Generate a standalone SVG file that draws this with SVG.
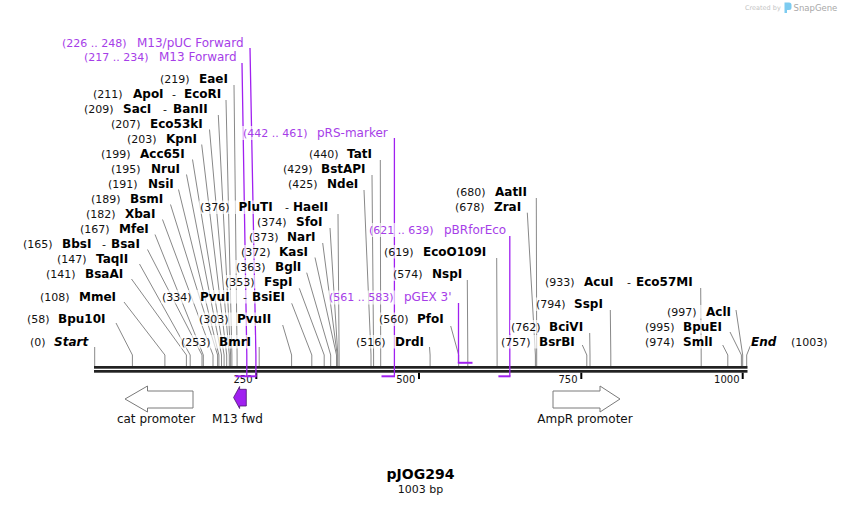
<svg xmlns="http://www.w3.org/2000/svg" width="842" height="505" viewBox="0 0 842 505">
<style>
text{font-family:"DejaVu Sans","Liberation Sans",sans-serif;fill:#111}
.n{font-size:11px}
.e{font-size:12px;font-weight:bold;fill:#000}
.i{font-style:italic}
.pr{fill:#a63ee8}
.pn{font-size:12px;fill:#a63ee8}
.bg{fill:#fff;fill-opacity:0.65}
.cl path{fill:none;stroke:#888;stroke-width:1}
.pl path{fill:none;stroke:#a020f0;stroke-width:1.3}
.pl path.h{stroke-width:2}
.tk{stroke:#000;stroke-width:2}
.tl{font-size:10px;text-anchor:end}
.ft{font-size:12px;text-anchor:middle}
</style>
<rect width="842" height="505" fill="#fff"/>
<g id="watermark">
<text x="745" y="10" style="font-size:6.5px;fill:#c4c4c4">Created by</text>
<path d="M784.5 2.5h4.5a2.5 2.5 0 0 1 2.5 2.5v2.5a2.5 2.5 0 0 1-2.5 2.5h-2v3h-2.5z" fill="#7ccbf0"/>
<text x="793.5" y="11" style="font-size:8.5px;fill:#a8a8a8">SnapGene</text>
</g>
<g id="backbone">
<rect x="94" y="366" width="653.5" height="2.7" fill="#222"/>
<rect x="94" y="370" width="653.5" height="2.7" fill="#222"/>
<line class="tk" x1="256.3" y1="372.7" x2="256.3" y2="379"/>
<line class="tk" x1="419" y1="372.7" x2="419" y2="379"/>
<line class="tk" x1="581.3" y1="372.7" x2="581.3" y2="379"/>
<line class="tk" x1="742.7" y1="372.7" x2="742.7" y2="379"/>
<text class="tl" x="252.5" y="382.5">250</text>
<text class="tl" x="415.3" y="382.5">500</text>
<text class="tl" x="577.5" y="382.5">750</text>
<text class="tl" x="739.5" y="382.5">1000</text>
</g>
<g id="connectors">
<g class="cl">
<path d="M234 85L237.1 355V366"/>
<path d="M226 100L231.9 355V366"/>
<path d="M218.3 115L230.6 355V366"/>
<path d="M209.5 129.5L229.3 355V366"/>
<path d="M201.7 144.5L226.7 355V366"/>
<path d="M192.5 159.5L224.1 355V366"/>
<path d="M186.5 174.5L221.5 355V366"/>
<path d="M178.5 189.5L218.9 355V366"/>
<path d="M170.5 204.5L217.6 355V366"/>
<path d="M162.5 219.5L213 355V366"/>
<path d="M155 234.5L203.3 355V366"/>
<path d="M147.5 249.5L202 355V366"/>
<path d="M139.5 264L190.2 355V366"/>
<path d="M131.5 279L186.4 355V366"/>
<path d="M124 302L164.9 355V366"/>
<path d="M116 323L132.4 355V366"/>
<path d="M94.7 347V366"/>
<path d="M259.2 347V366"/>
<path d="M282.7 325L291.6 355V366"/>
<path d="M291.7 303.3L311.8 355V366"/>
<path d="M299.3 288.3L324.2 355V366"/>
<path d="M306.7 272.7L330.7 355V366"/>
<path d="M315 257.5L336.5 355V366"/>
<path d="M322.7 243L337.2 355V366"/>
<path d="M330 228L337.8 355V366"/>
<path d="M338 214L339.1 355V366"/>
<path d="M364 190L371 355V366"/>
<path d="M372 175L373.6 355V366"/>
<path d="M380.3 160L380.7 355V366"/>
<path d="M429.5 347L430.1 355V366"/>
<path d="M450.7 326L458.7 355V366"/>
<path d="M467.3 280L467.8 355V366"/>
<path d="M496.7 258L497.1 355V366"/>
<path d="M527.3 212.7L535.4 355V366"/>
<path d="M536.3 198L536.7 355V366"/>
<path d="M582.3 345L586.8 355V366"/>
<path d="M589.7 333L590 355V366"/>
<path d="M610.3 310L610.8 355V366"/>
<path d="M700.7 288L701.2 355V366"/>
<path d="M722.7 345L727.8 355V366"/>
<path d="M730 332L741.4 355V366"/>
<path d="M736 310L742.7 355V366"/>
<path d="M750.7 345L746.7 355V366"/>
</g>
<g class="pl">
<path d="M250 48L255.9 355V376.3"/>
<path d="M242 63L246.8 355V376.3"/>
<path class="h" d="M235.5 376.3H256.6"/>
<path d="M394.4 138V376.3"/>
<path class="h" d="M381.5 376.3H395"/>
<path d="M509.8 236V376.3"/>
<path class="h" d="M498.4 376.3H510.5"/>
<path d="M458.5 303V362.8"/>
<path class="h" d="M457.8 362.8H472.5"/>
</g>
</g>
<g id="p-m13puc"><text x="62" y="46.5" class="n pr">(226 .. 248)</text><text x="137" y="46.5" class="pn">M13/pUC Forward</text></g>
<g id="p-m13"><text x="84" y="61" class="n pr">(217 .. 234)</text><text x="159" y="61" class="pn">M13 Forward</text></g>
<g id="p-prs"><rect class="bg" x="242" y="126" width="149" height="14"/><text x="243" y="136.5" class="n pr">(442 .. 461)</text><text x="317" y="136.5" class="pn">pRS-marker</text></g>
<g id="p-pbr"><rect class="bg" x="368" y="223" width="139" height="14"/><text x="369" y="233.5" class="n pr">(621 .. 639)</text><text x="444" y="233.5" class="pn">pBRforEco</text></g>
<g id="p-pgex"><rect class="bg" x="328" y="290.5" width="125" height="14"/><text x="329" y="301" class="n pr">(561 .. 583)</text><text x="404" y="301" class="pn">pGEX 3'</text></g>

<g id="EaeI"><rect class="bg" x="159" y="72" width="72" height="13.5"/><text x="160" y="82.7" class="n">(219)</text><text x="199" y="82.7" class="e">EaeI</text></g>
<g id="ApoI-EcoRI"><rect class="bg" x="92" y="87" width="132" height="13.5"/><text x="93" y="97.7" class="n">(211)</text><text x="133" y="97.7" class="e">ApoI</text><text x="172" y="97.7" class="n">-</text><text x="184" y="97.7" class="e">EcoRI</text></g>
<g id="SacI-BanII"><rect class="bg" x="83" y="102" width="130" height="13.5"/><text x="84" y="112.7" class="n">(209)</text><text x="123" y="112.7" class="e">SacI</text><text x="163" y="112.7" class="n">-</text><text x="173" y="112.7" class="e">BanII</text></g>
<g id="Eco53kI"><rect class="bg" x="110" y="117" width="97" height="13.5"/><text x="111" y="127.7" class="n">(207)</text><text x="150" y="127.7" class="e">Eco53kI</text></g>
<g id="KpnI"><rect class="bg" x="126" y="132" width="73" height="13.5"/><text x="127" y="142.7" class="n">(203)</text><text x="166" y="142.7" class="e">KpnI</text></g>
<g id="Acc65I"><rect class="bg" x="100" y="147" width="88" height="13.5"/><text x="101" y="157.7" class="n">(199)</text><text x="140" y="157.7" class="e">Acc65I</text></g>
<g id="NruI"><rect class="bg" x="110" y="162" width="72" height="13.5"/><text x="111" y="172.7" class="n">(195)</text><text x="151" y="172.7" class="e">NruI</text></g>
<g id="NsiI"><rect class="bg" x="107" y="177" width="69" height="13.5"/><text x="108" y="187.7" class="n">(191)</text><text x="148" y="187.7" class="e">NsiI</text></g>
<g id="BsmI"><rect class="bg" x="90" y="192" width="77" height="13.5"/><text x="91" y="202.7" class="n">(189)</text><text x="130" y="202.7" class="e">BsmI</text></g>
<g id="XbaI"><rect class="bg" x="85" y="207" width="73" height="13.5"/><text x="86" y="217.7" class="n">(182)</text><text x="125" y="217.7" class="e">XbaI</text></g>
<g id="MfeI"><rect class="bg" x="79" y="222" width="72" height="13.5"/><text x="80" y="232.7" class="n">(167)</text><text x="119" y="232.7" class="e">MfeI</text></g>
<g id="BbsI-BsaI"><rect class="bg" x="22" y="237" width="121" height="13.5"/><text x="23" y="247.7" class="n">(165)</text><text x="62" y="247.7" class="e">BbsI</text><text x="102" y="247.7" class="n">-</text><text x="111" y="247.7" class="e">BsaI</text></g>
<g id="TaqII"><rect class="bg" x="56" y="252" width="78" height="13.5"/><text x="57" y="262.7" class="n">(147)</text><text x="96" y="262.7" class="e">TaqII</text></g>
<g id="BsaAI"><rect class="bg" x="45" y="267" width="82" height="13.5"/><text x="46" y="277.7" class="n">(141)</text><text x="85" y="277.7" class="e">BsaAI</text></g>
<g id="MmeI"><rect class="bg" x="39" y="290" width="80" height="13.5"/><text x="40" y="300.7" class="n">(108)</text><text x="79" y="300.7" class="e">MmeI</text></g>
<g id="Bpu10I"><rect class="bg" x="26" y="312" width="83" height="13.5"/><text x="27" y="322.7" class="n">(58)</text><text x="58" y="322.7" class="e">Bpu10I</text></g>
<g id="Start"><rect class="bg" x="29" y="335" width="61" height="13.5"/><text x="30" y="345.7" class="n">(0)</text><text x="54" y="345.7" class="e i">Start</text></g>

<g id="PluTI-HaeII"><rect class="bg" x="199" y="200.5" width="135" height="13.5"/><text x="200" y="211" class="n">(376)</text><text x="238.5" y="211" class="e">PluTI</text><text x="285" y="211" class="n">-</text><text x="293" y="211" class="e">HaeII</text></g>
<g id="SfoI"><rect class="bg" x="256" y="215" width="70" height="13.5"/><text x="257" y="225.5" class="n">(374)</text><text x="296" y="225.5" class="e">SfoI</text></g>
<g id="NarI"><rect class="bg" x="248" y="230" width="71" height="13.5"/><text x="249" y="240.7" class="n">(373)</text><text x="287" y="240.7" class="e">NarI</text></g>
<g id="KasI"><rect class="bg" x="240" y="245" width="71" height="13.5"/><text x="241" y="255.7" class="n">(372)</text><text x="279" y="255.7" class="e">KasI</text></g>
<g id="BglI"><rect class="bg" x="235" y="260" width="70" height="13.5"/><text x="236" y="270.7" class="n">(363)</text><text x="275" y="270.7" class="e">BglI</text></g>
<g id="FspI"><rect class="bg" x="224" y="275" width="71" height="13.5"/><text x="225" y="285.7" class="n">(353)</text><text x="264" y="285.7" class="e">FspI</text></g>
<g id="PvuI-BsiEI"><rect class="bg" x="161" y="290" width="126" height="13.5"/><text x="162" y="300.7" class="n">(334)</text><text x="200" y="300.7" class="e">PvuI</text><text x="243" y="300.7" class="n">-</text><text x="252" y="300.7" class="e">BsiEI</text></g>
<g id="PvuII"><rect class="bg" x="198" y="312.5" width="78" height="13.5"/><text x="199" y="323" class="n">(303)</text><text x="237" y="323" class="e">PvuII</text></g>
<g id="BmrI"><rect class="bg" x="180" y="335" width="75" height="13.5"/><text x="181" y="345.7" class="n">(253)</text><text x="219" y="345.7" class="e">BmrI</text></g>

<g id="TatI"><rect class="bg" x="308" y="147" width="68" height="13.5"/><text x="309" y="157.7" class="n">(440)</text><text x="347" y="157.7" class="e">TatI</text></g>
<g id="BstAPI"><rect class="bg" x="282" y="162" width="87" height="13.5"/><text x="283" y="172.7" class="n">(429)</text><text x="321" y="172.7" class="e">BstAPI</text></g>
<g id="NdeI"><rect class="bg" x="287" y="177" width="74" height="13.5"/><text x="288" y="187.7" class="n">(425)</text><text x="327" y="187.7" class="e">NdeI</text></g>
<g id="EcoO109I"><rect class="bg" x="383" y="245" width="107" height="13.5"/><text x="384" y="255.8" class="n">(619)</text><text x="423" y="255.8" class="e">EcoO109I</text></g>
<g id="NspI"><rect class="bg" x="392" y="267.5" width="73" height="13.5"/><text x="393" y="278" class="n">(574)</text><text x="432" y="278" class="e">NspI</text></g>
<g id="PfoI"><rect class="bg" x="378" y="312.5" width="69" height="13.5"/><text x="379" y="323" class="n">(560)</text><text x="417" y="323" class="e">PfoI</text></g>
<g id="DrdI"><rect class="bg" x="355" y="335" width="71" height="13.5"/><text x="356" y="345.7" class="n">(516)</text><text x="395" y="345.7" class="e">DrdI</text></g>
<g id="AatII"><rect class="bg" x="455" y="185" width="77" height="13.5"/><text x="456" y="195.8" class="n">(680)</text><text x="495" y="195.8" class="e">AatII</text></g>
<g id="ZraI"><rect class="bg" x="454" y="200" width="70" height="13.5"/><text x="455" y="210.8" class="n">(678)</text><text x="494" y="210.8" class="e">ZraI</text></g>
<g id="AcuI-Eco57MI"><rect class="bg" x="544" y="275" width="151" height="13.5"/><text x="545" y="285.7" class="n">(933)</text><text x="584" y="285.7" class="e">AcuI</text><text x="627" y="285.7" class="n">-</text><text x="636" y="285.7" class="e">Eco57MI</text></g>
<g id="SspI"><rect class="bg" x="535" y="297.5" width="71" height="13.5"/><text x="536" y="308.3" class="n">(794)</text><text x="574" y="308.3" class="e">SspI</text></g>
<g id="BciVI"><rect class="bg" x="510" y="320" width="76" height="13.5"/><text x="511" y="330.7" class="n">(762)</text><text x="549" y="330.7" class="e">BciVI</text></g>
<g id="BsrBI"><rect class="bg" x="500" y="335" width="78" height="13.5"/><text x="501" y="345.8" class="n">(757)</text><text x="539" y="345.8" class="e">BsrBI</text></g>
<g id="AclI"><rect class="bg" x="666" y="305" width="68" height="13.5"/><text x="667" y="315.7" class="n">(997)</text><text x="706" y="315.7" class="e">AclI</text></g>
<g id="BpuEI"><rect class="bg" x="644" y="320" width="81" height="13.5"/><text x="645" y="330.7" class="n">(995)</text><text x="683" y="330.7" class="e">BpuEI</text></g>
<g id="SmlI"><rect class="bg" x="644" y="335" width="72" height="13.5"/><text x="645" y="345.7" class="n">(974)</text><text x="683" y="345.7" class="e">SmlI</text></g>
<g id="End"><rect class="bg" x="750" y="335" width="79" height="13.5"/><text x="751" y="345.7" class="e i">End</text><text x="791" y="345.7" class="n">(1003)</text></g>

<g id="cat-promoter">
<path d="M193 391H147.5V386L125 399L147.5 412V408H193Z" fill="#fff" stroke="#7a7a7a" stroke-width="1"/>
<text class="ft" x="156" y="422.5">cat promoter</text>
</g>
<g id="M13-fwd">
<path d="M246.3 389.3H239.6V386.5L233.6 397.5L239.6 408.5V406H246.3Z" fill="#a020f0" stroke="#4a1670" stroke-width="0.8"/>
<text class="ft" x="237.5" y="422.5">M13 fwd</text>
</g>
<g id="AmpR-promoter">
<path d="M553 391H600V386L620 399L600 412V408H553Z" fill="#fff" stroke="#7a7a7a" stroke-width="1"/>
<text class="ft" x="585" y="422.5">AmpR promoter</text>
</g>
<g id="title">
<text x="420.5" y="479" style="font-size:14px;font-weight:bold;text-anchor:middle;fill:#000">pJOG294</text>
<text x="420.5" y="493" style="font-size:11px;text-anchor:middle">1003 bp</text>
</g>
</svg>
